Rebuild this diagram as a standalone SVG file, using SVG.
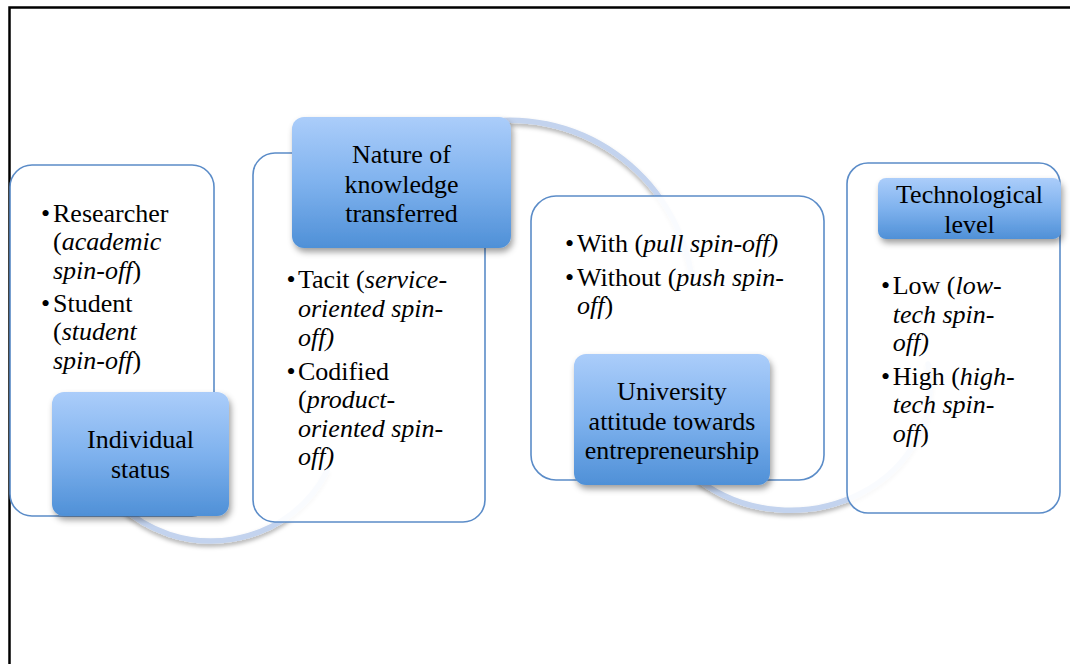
<svg xmlns="http://www.w3.org/2000/svg" width="1070" height="664" viewBox="0 0 1070 664">
  <defs>
    <linearGradient id="hdrFill" x1="0" y1="0" x2="0" y2="1">
      <stop offset="0" stop-color="#abcdfa"/>
      <stop offset="0.5" stop-color="#7fb2ee"/>
      <stop offset="1" stop-color="#4f90d7"/>
    </linearGradient>
    <filter id="hdrShadow" x="-10%" y="-10%" width="125%" height="130%">
      <feDropShadow dx="2" dy="4" stdDeviation="3" flood-color="#000" flood-opacity="0.38"/>
    </filter>
    <filter id="arcShadow" x="-10%" y="-10%" width="120%" height="130%">
      <feDropShadow dx="0" dy="3" stdDeviation="2" flood-color="#000" flood-opacity="0.3"/>
    </filter>
  </defs>
  <style>
    .frame { fill: none; stroke: #000; stroke-width: 2.5; }
    .arc { fill: none; stroke: #c3d3ee; stroke-width: 5.5; stroke-linecap: round; filter: url(#arcShadow); }
    .panel { fill: #fff; fill-opacity: 0.9; stroke: #5b8cc8; stroke-width: 1.6; }
    .hdr { fill: url(#hdrFill); filter: url(#hdrShadow); }
    text { font-family: "Liberation Serif", "Times New Roman", serif; font-size: 26px; fill: #000; }
    .c { text-anchor: middle; }
    .i { font-style: italic; }
  </style>

  <rect width="1070" height="664" fill="#fff"/>
  <!-- page frame -->
  <path class="frame" d="M9.5,664 V7.5 H1070"/>

  <!-- bending ribbons linking the panels -->
  <g id="connectors">
    <path class="arc" d="M120.5,505.6 A128,121 0 0 0 327,471"/>
    <path class="arc" d="M478,123 A184,184 0 0 1 691,272"/>
    <path class="arc" d="M700,481 A140,124 0 0 0 928,364"/>
  </g>

  <g id="individual-status">
    <rect class="panel" x="10" y="165" width="204" height="351" rx="22"/>
    <text x="41" y="221.7">•</text>
    <text x="53" y="221.7">Researcher</text>
    <text x="53" y="250">(<tspan class="i">academic</tspan></text>
    <text x="53" y="278.5"><tspan class="i">spin-off</tspan>)</text>
    <text x="41" y="311.7">•</text>
    <text x="53" y="311.7">Student</text>
    <text x="53" y="340">(<tspan class="i">student</tspan></text>
    <text x="53" y="368.5"><tspan class="i">spin-off</tspan>)</text>
    <rect class="hdr" x="52" y="392" width="177" height="124" rx="12"/>
    <text class="c" x="140.5" y="448.3">Individual</text>
    <text class="c" x="140.5" y="478">status</text>
  </g>

  <g id="nature-of-knowledge">
    <rect class="panel" x="253" y="153" width="232" height="369" rx="22"/>
    <rect class="hdr" x="292" y="117" width="219" height="131" rx="12"/>
    <text class="c" x="401.5" y="163.3">Nature of</text>
    <text class="c" x="401.5" y="192.7">knowledge</text>
    <text class="c" x="401.5" y="221.7">transferred</text>
    <text x="286.5" y="288.3">•</text>
    <text x="298" y="288.3">Tacit (<tspan class="i">service-</tspan></text>
    <text x="298" y="317" class="i">oriented spin-</text>
    <text x="298" y="345.5" class="i">off)</text>
    <text x="286.5" y="380">•</text>
    <text x="298" y="380">Codified</text>
    <text x="298" y="408">(<tspan class="i">product-</tspan></text>
    <text x="298" y="436.7" class="i">oriented spin-</text>
    <text x="298" y="465" class="i">off)</text>
  </g>

  <g id="university-attitude">
    <rect class="panel" x="531" y="196" width="293" height="284" rx="25"/>
    <text x="565" y="251.5">•</text>
    <text x="577" y="251.5">With (<tspan class="i">pull spin-off)</tspan></text>
    <text x="565" y="286">•</text>
    <text x="577" y="286">Without (<tspan class="i">push spin-</tspan></text>
    <text x="577" y="313.5"><tspan class="i">off</tspan>)</text>
    <rect class="hdr" x="574" y="354" width="196" height="131" rx="12"/>
    <text class="c" x="672" y="400">University</text>
    <text class="c" x="672" y="429.5">attitude towards</text>
    <text class="c" x="672" y="458.5">entrepreneurship</text>
  </g>

  <g id="technological-level">
    <rect class="panel" x="847" y="163" width="213" height="350" rx="21"/>
    <rect class="hdr" x="878" y="178" width="183" height="61" rx="8"/>
    <text class="c" x="969.5" y="203.3">Technological</text>
    <text class="c" x="969.5" y="232.7">level</text>
    <text x="881" y="294">•</text>
    <text x="892.7" y="294">Low (<tspan class="i">low-</tspan></text>
    <text x="892.7" y="322.7" class="i">tech spin-</text>
    <text x="892.7" y="350.5" class="i">off)</text>
    <text x="881" y="385">•</text>
    <text x="892.7" y="385">High (<tspan class="i">high-</tspan></text>
    <text x="892.7" y="413.3" class="i">tech spin-</text>
    <text x="892.7" y="441.7"><tspan class="i">off</tspan>)</text>
  </g>
</svg>
